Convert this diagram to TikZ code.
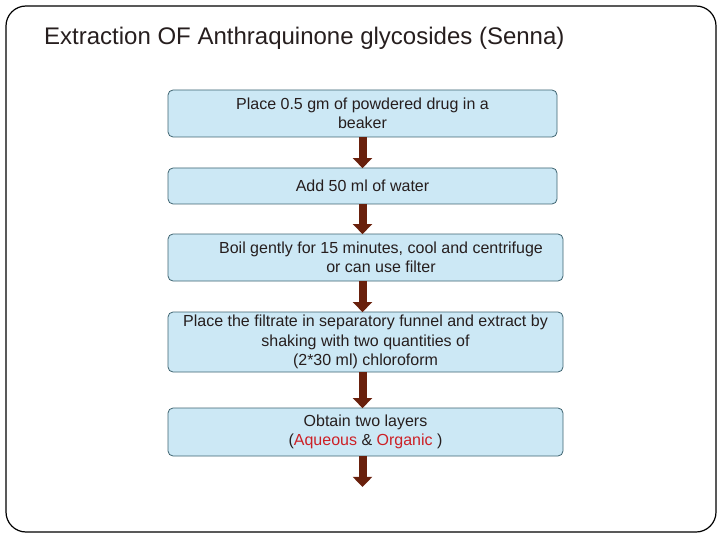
\documentclass[tikz,border=0pt]{standalone}
\usepackage{fontspec}
\setmainfont{Liberation Sans}
\usetikzlibrary{arrows.meta,calc}
\definecolor{boxfill}{RGB}{204,232,245}
\definecolor{boxline}{RGB}{62,100,112}
\definecolor{arrowbrown}{RGB}{105,32,12}
\definecolor{textdark}{RGB}{38,30,30}
\definecolor{layerred}{RGB}{205,32,38}

\tikzset{
  stepbox/.style={draw=boxline, fill=boxfill, rounded corners=5pt, line width=0.8pt,
    inner sep=0pt, align=center, text=textdark,
    font=\fontsize{16}{19.5}\selectfont},
  flowarrow/.style={draw=arrowbrown, line width=8pt,
    -{Triangle[width=19pt,length=10pt]}, shorten >=-0.5pt}
}

\begin{document}
\begin{tikzpicture}[x=1pt,y=-1pt]
  \useasboundingbox (0,0) rectangle (720,540);
  % Outer slide frame
  \draw [line width=1.2pt, rounded corners=20pt] (6,6) rectangle (716,532);

  % Title
  \node (title) [anchor=base west, inner sep=0pt, text=textdark,
    font=\fontsize{24}{28}\selectfont] at (44,45)
    {Extraction OF Anthraquinone glycosides (Senna)};

  % Steps of the procedure
  \node (b1) [stepbox, minimum width=389pt, minimum height=47pt] at (362.5,113.5)
    {Place 0.5 gm of powdered drug in a\\beaker};
  \node (b2) [stepbox, minimum width=389pt, minimum height=36pt] at (362.5,186)
    {Add 50 ml of water};
  \node (b3) [stepbox, minimum width=395pt, minimum height=47pt] at (365.5,257.5) {};
  \node (t3) [align=center, inner sep=0pt, text=textdark,
    font=\fontsize{16}{19.5}\selectfont] at ($(b3.center)+(15.5,0)$)
    {Boil gently for 15 minutes, cool and centrifuge\\or can use filter};
  \node (b4) [stepbox, minimum width=395pt, minimum height=60pt] at (365.5,342)
    {Place the filtrate in separatory funnel and extract by\\shaking with two quantities of\\(2*30 ml) chloroform};
  \node (b5) [stepbox, minimum width=395pt, minimum height=48pt] at (365.5,432)
    {Obtain two layers\\(\textcolor{layerred}{Aqueous} \& \textcolor{layerred}{Organic} )};
  \coordinate (end) at ($(b2.south |- b5.south)+(0,30)$);

  % Arrows between the steps
  \draw [flowarrow] (b1.south) -- (b2.north);
  \draw [flowarrow] (b2.south) -- (b2.south |- b3.north);
  \draw [flowarrow] (b2.south |- b3.south) -- (b2.south |- b4.north);
  \draw [flowarrow] (b2.south |- b4.south) -- (b2.south |- b5.north);
  \draw [flowarrow] (b2.south |- b5.south) -- (end);
\end{tikzpicture}
\end{document}
